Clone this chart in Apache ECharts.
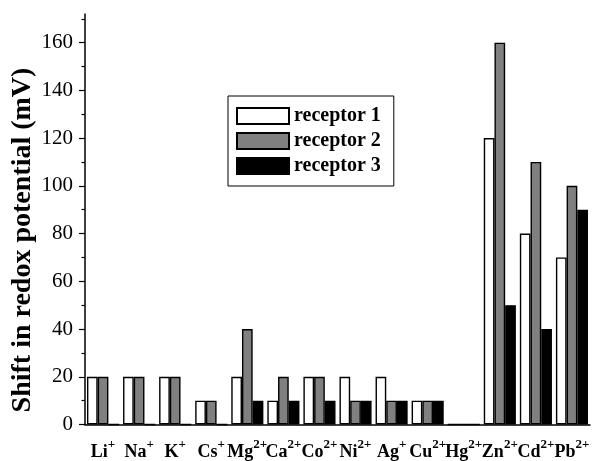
<!DOCTYPE html>
<html>
<head>
<meta charset="utf-8">
<script src="https://cdn.jsdelivr.net/npm/echarts@6/dist/echarts.min.js"></script>
<style>
  html, body { margin: 0; padding: 0; background: #fff; }
  #chart { width: 603px; height: 461px; }
</style>
</head>
<body>
<div id="chart"></div>
<script>
// Metal ions tested (symbol + charge, charge drawn as superscript)
const ionSymbols = ['Li', 'Na', 'K', 'Cs', 'Mg', 'Ca', 'Co', 'Ni', 'Ag', 'Cu', 'Hg', 'Zn', 'Cd', 'Pb'];
const ionCharges = ['+', '+', '+', '+', '2+', '2+', '2+', '2+', '+', '2+', '2+', '2+', '2+', '2+'];

// Shift in redox potential (mV) per receptor
const receptor1 = [20, 20, 20, 10, 20, 10, 20, 20, 20, 10, 0, 120, 80, 70];
const receptor2 = [20, 20, 20, 10, 40, 20, 20, 10, 10, 10, 0, 160, 110, 100];
const receptor3 = [0, 0, 0, 0, 10, 10, 10, 10, 10, 10, 0, 50, 40, 90];

const seriesNames = ['receptor 1', 'receptor 2', 'receptor 3'];
const majorTicks = [0, 20, 40, 60, 80, 100, 120, 140, 160];
const minorTicks = [10, 30, 50, 70, 90, 110, 130, 150, 170];

const categories = ionSymbols.map((s, i) => s + ionCharges[i]);
const FONT = '"Liberation Serif", "Times New Roman", serif';
const fills = ['#ffffff', '#808080', '#000000'];
const values = [receptor1, receptor2, receptor3];

const chart = echarts.init(document.getElementById('chart'), null, { renderer: 'canvas' });

const yBase = {
  type: 'value', min: 0, max: 172, position: 'left',
  splitLine: { show: false }
};

chart.setOption({
  animation: false,
  backgroundColor: '#ffffff',
  grid: { left: 85, right: 13, top: 14, bottom: 36 },
  legend: {
    orient: 'vertical',
    left: 228, top: 96,
    padding: [10, 13, 10, 8],
    itemWidth: 52, itemHeight: 16, itemGap: 5,
    icon: 'rect',
    borderColor: '#000', borderWidth: 1,
    data: seriesNames,
    textStyle: { fontFamily: FONT, fontWeight: 'bold', fontSize: 20, lineHeight: 20, color: '#000' }
  },
  xAxis: [
    {
      type: 'category', data: categories, position: 'bottom',
      boundaryGap: true,
      axisLine: { lineStyle: { color: '#000', width: 1.5 } },
      axisTick: { alignWithLabel: true, length: 7, lineStyle: { color: '#000', width: 1.2 } },
      axisLabel: {
        interval: 0, margin: 14,
        formatter: (v, i) => '{b|' + ionSymbols[i] + '}{s|' + ionCharges[i] + '}',
        rich: {
          b: { fontFamily: FONT, fontWeight: 'bold', fontSize: 18, color: '#000' },
          s: { fontFamily: FONT, fontWeight: 'bold', fontSize: 13, color: '#000', padding: [0, 0, 14, 0] }
        }
      }
    },
    {
      type: 'category', data: categories, position: 'bottom',
      boundaryGap: true,
      axisLine: { show: false },
      axisTick: { alignWithLabel: false, length: 4, lineStyle: { color: '#000', width: 1.2 } },
      axisLabel: { show: false }
    }
  ],
  yAxis: [
    Object.assign({}, yBase, {
      axisLine: { show: true, lineStyle: { color: '#000', width: 1.5 } },
      axisTick: { show: true, length: 6, customValues: majorTicks, lineStyle: { color: '#000', width: 1.2 } },
      axisLabel: {
        customValues: majorTicks, margin: 12,
        fontFamily: FONT, fontSize: 21, color: '#000'
      }
    }),
    Object.assign({}, yBase, {
      axisLine: { show: false },
      axisTick: { show: true, length: 3.5, customValues: minorTicks, lineStyle: { color: '#000', width: 1.2 } },
      axisLabel: { show: false }
    })
  ],
  graphic: [{
    type: 'text',
    x: 23, y: 240, rotation: Math.PI / 2,
    style: {
      text: 'Shift in redox potential (mV)',
      fontFamily: FONT, fontWeight: 'bold', fontSize: 28, fill: '#000',
      align: 'center', verticalAlign: 'middle'
    }
  }],
  series: seriesNames.map((name, k) => ({
    name, type: 'bar', xAxisIndex: 0, yAxisIndex: 0,
    data: values[k],
    barGap: '0%', barCategoryGap: '11%',
    itemStyle: { color: fills[k], borderColor: '#000', borderWidth: 1.4 }
  }))
});
</script>
</body>
</html>
